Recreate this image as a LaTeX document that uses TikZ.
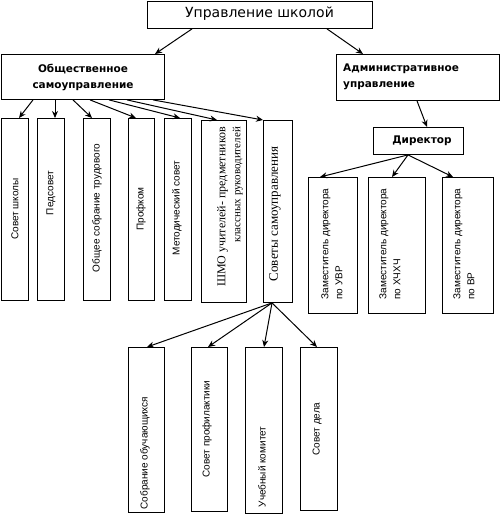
\documentclass[tikz,border=0pt]{standalone}
\usepackage{fontspec}
\setmainfont{Liberation Sans}
\newfontfamily\hdr{DejaVu Sans}
\newfontfamily\serf{Liberation Serif}
\usetikzlibrary{arrows.meta,calc}
\begin{document}
\begin{tikzpicture}[x=1pt,y=-1pt,
  box/.style={draw, line width=0.9pt, inner sep=0pt, anchor=north west},
  arr/.style={-{Stealth[length=7pt,width=6pt]}, line width=1pt},
  vt/.style={rotate=90, font=\fontsize{10}{14}\selectfont, inner sep=0pt},
  hb/.style={font=\hdr\bfseries\fontsize{10.5}{16}\selectfont, inner sep=0pt}]
\useasboundingbox (0,0) rectangle (500,516);
% boxes
\node[box, minimum width=225pt, minimum height=27pt] (top) at (147,1) {};
\node[box, minimum width=163pt, minimum height=45pt] (obsh) at (1,54) {};
\node[box, minimum width=163pt, minimum height=46pt] (adm) at (336,54) {};
\node[box, minimum width=27pt, minimum height=182pt] (b1) at (1,118) {};
\node[box, minimum width=27pt, minimum height=182pt] (b2) at (37,118) {};
\node[box, minimum width=27pt, minimum height=182pt] (b3) at (83,118) {};
\node[box, minimum width=26pt, minimum height=182pt] (b4) at (128,118) {};
\node[box, minimum width=27pt, minimum height=182pt] (b5) at (164,118) {};
\node[box, minimum width=45pt, minimum height=182pt] (b6) at (201,120) {};
\node[box, minimum width=29pt, minimum height=182pt] (b7) at (263,120) {};
\node[box, minimum width=90pt, minimum height=27pt] (dir) at (373,127) {};
\node[box, minimum width=49pt, minimum height=136pt] (d1) at (308,177) {};
\node[box, minimum width=57pt, minimum height=136pt] (d2) at (368,177) {};
\node[box, minimum width=51pt, minimum height=136pt] (d3) at (442,177) {};
\node[box, minimum width=36pt, minimum height=165pt] (s1) at (128,347) {};
\node[box, minimum width=36pt, minimum height=164pt] (s2) at (191,347) {};
\node[box, minimum width=37pt, minimum height=166pt] (s3) at (245,347) {};
\node[box, minimum width=37pt, minimum height=163pt] (s4) at (300,347) {};
% texts
\node[font=\hdr\fontsize{14}{16}\selectfont, inner sep=0pt] (tt) at (259.5,14) {Управление школой};
\node[hb, align=center] (ot) at (83,77) {Общественное\\самоуправление};
\node[hb, align=left, anchor=west] (at) at (343,77) {Административное\\управление};
\node[hb] (dt) at (422,141) {Директор};
\node[vt] (t1) at (15,209) {Совет школы};
\node[vt] (t2) at (51,193) {Педсовет};
\node[vt] (t3) at (97,208) {Общее собрание трудового};
\node[vt] (t4) at (141,209) {Профком};
\node[vt] (t5) at (177,208) {Методический совет};
\node[vt, align=right, font=\serf\fontsize{12}{15}\selectfont] (t6) at (230,207) {ШМО учителей- предметников\\\fontsize{11}{15}\selectfont классных руководителей};
\node[vt, font=\serf\fontsize{13}{15}\selectfont] (t7) at (275,214) {Советы самоуправления};
\node[vt, align=left] (dt1) at (332,244) {Заместитель директора\\по УВР};
\node[vt, align=left] (dt2) at (390,244) {Заместитель директора\\по ХЧХЧ};
\node[vt, align=left] (dt3) at (464,244) {Заместитель директора\\по ВР};
\node[vt] (st1) at (145,453) {Собрание обучающихся};
\node[vt] (st2) at (207,429) {Совет профилактики};
\node[vt] (st3) at (262,467) {Учебный комитет};
\node[vt] (st4) at (317,429) {Совет дела};
% arrows
\draw[arr] ($(top.south west)+(45,0)$) -- ($(obsh.north west)+(154,0)$);
\draw[arr] ($(top.south west)+(180,0)$) -- ($(adm.north west)+(27,0)$);
\draw[arr] ($(obsh.south west)+(32,0)$) -- ($(b1.north west)+(18,0)$);
\draw[arr] ($(obsh.south west)+(54,0)$) -- ($(b2.north west)+(18,0)$);
\draw[arr] ($(obsh.south west)+(72,0)$) -- ($(b3.north west)+(9,0)$);
\draw[arr] ($(obsh.south west)+(89,0)$) -- ($(b4.north west)+(8,0)$);
\draw[arr] ($(obsh.south west)+(108,0)$) -- ($(b5.north west)+(16,0)$);
\draw[arr] ($(obsh.south west)+(126,0)$) -- ($(b6.north west)+(16,0)$);
\draw[arr] ($(obsh.south west)+(152,0)$) -- (b7.north west);
\draw[arr] ($(adm.south west)+(81,0)$) -- ($(dir.north west)+(54,0)$);
\draw[arr] ($(dir.south west)+(35,0)$) -- ($(d1.north west)+(12,0)$);
\draw[arr] ($(dir.south west)+(35,0)$) -- ($(d2.north west)+(24,0)$);
\draw[arr] ($(dir.south west)+(35,0)$) -- ($(d3.north west)+(11,0)$);
\draw[arr] ($(b7.south west)+(9,0)$) -- ($(s1.north west)+(19,0)$);
\draw[arr] ($(b7.south west)+(9,0)$) -- ($(s2.north west)+(17,0)$);
\draw[arr] ($(b7.south west)+(9,0)$) -- ($(s3.north west)+(19,0)$);
\draw[arr] ($(b7.south west)+(9,0)$) -- ($(s4.north west)+(17,0)$);
\end{tikzpicture}
\end{document}
